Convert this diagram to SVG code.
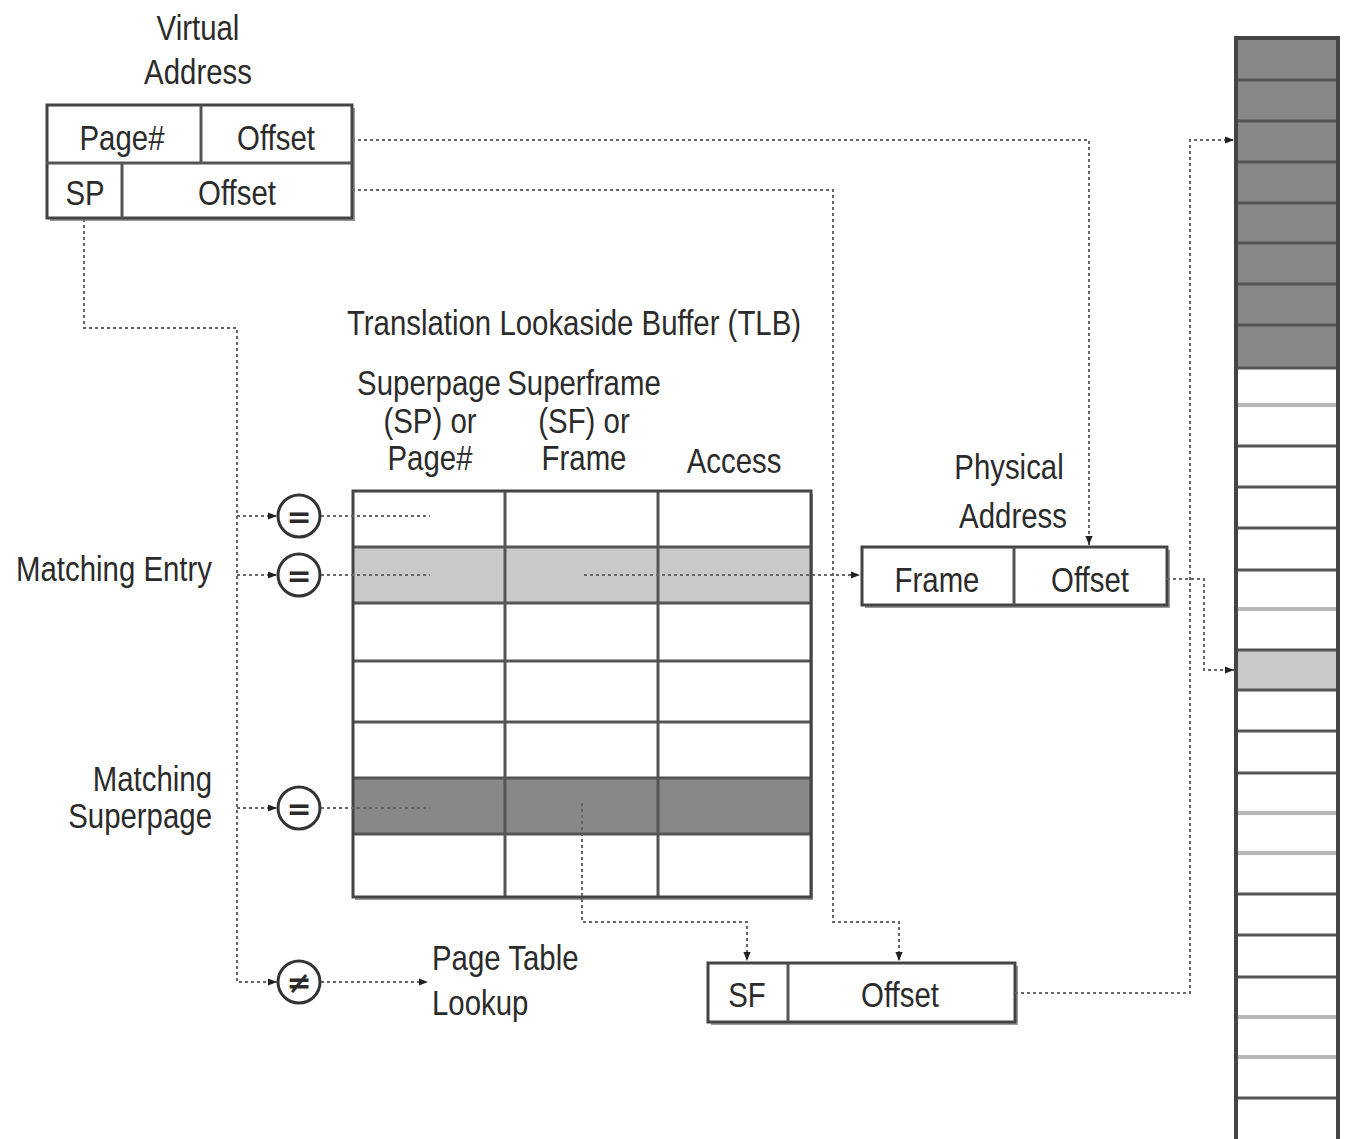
<svg xmlns="http://www.w3.org/2000/svg" width="1369" height="1139" viewBox="0 0 1369 1139">
  <style>
    text { font-family: "Liberation Sans", Arial, sans-serif; font-size: 35px; fill: #2b2b2b; }
    .c { text-anchor: middle; }
    .r { text-anchor: end; }
    .box { fill: #fff; stroke: #444; stroke-width: 3; }
    .shadow { fill: #9a9a9a; }
    .cell { fill: none; stroke: #444; stroke-width: 3; }
    .thin { stroke: #555; stroke-width: 3; }
    .light { stroke: #b8b8b8; stroke-width: 4; }
    .dot { fill: none; stroke: #666; stroke-width: 2; stroke-dasharray: 3 3; }
    .arr { marker-end: url(#tip); }
    .cmp { fill: #fff; stroke: #333; stroke-width: 3; }
    .sym { font-family: "DejaVu Sans", sans-serif; font-size: 30px; font-weight: bold; text-anchor: middle; }
  </style>
  <defs>
    <marker id="tip" viewBox="0 0 10 10" refX="10" refY="5" markerWidth="9" markerHeight="9" markerUnits="userSpaceOnUse" orient="auto">
      <path d="M0,1 L10,5 L0,9 z" fill="#222"/>
    </marker>
  </defs>

  <rect width="1369" height="1139" fill="#fff"/>

  <!-- Virtual address (labels are narrowed horizontally to a condensed face) -->
  <g id="virtual-address">
    <text class="c" transform="translate(198,40) scale(0.84,1)">Virtual</text>
    <text class="c" transform="translate(198,84) scale(0.84,1)">Address</text>
    <rect class="shadow" x="50" y="108" width="305" height="113"/>
    <rect class="box" x="47" y="105" width="305" height="113"/>
    <line class="thin" x1="47" y1="163" x2="352" y2="163"/>
    <line class="thin" x1="201" y1="105" x2="201" y2="163"/>
    <line class="thin" x1="122" y1="163" x2="122" y2="218"/>
    <text class="c" transform="translate(122,150) scale(0.84,1)">Page#</text>
    <text class="c" transform="translate(276,150) scale(0.84,1)">Offset</text>
    <text class="c" transform="translate(85,205) scale(0.84,1)">SP</text>
    <text class="c" transform="translate(237,205) scale(0.84,1)">Offset</text>
  </g>

  <!-- TLB -->
  <g id="tlb">
    <text class="c" transform="translate(574,335) scale(0.84,1)">Translation Lookaside Buffer (TLB)</text>
    <text class="c" transform="translate(429,395) scale(0.84,1)">Superpage</text>
    <text class="c" transform="translate(430,433) scale(0.84,1)">(SP) or</text>
    <text class="c" transform="translate(430,470) scale(0.84,1)">Page#</text>
    <text class="c" transform="translate(584,395) scale(0.84,1)">Superframe</text>
    <text class="c" transform="translate(584,433) scale(0.84,1)">(SF) or</text>
    <text class="c" transform="translate(584,470) scale(0.84,1)">Frame</text>
    <text class="c" transform="translate(734,473) scale(0.84,1)">Access</text>
    <rect class="shadow" x="355" y="494" width="458" height="406"/>
    <rect fill="#fff" x="353" y="491" width="458" height="406"/>
    <rect fill="#c9c9c9" x="353" y="547" width="458" height="56"/>
    <rect fill="#888" x="353" y="778" width="458" height="56"/>
    <line class="thin" x1="353" y1="547" x2="811" y2="547"/>
    <line class="thin" x1="353" y1="603" x2="811" y2="603"/>
    <line class="thin" x1="353" y1="661" x2="811" y2="661" stroke="#999"/>
    <line class="thin" x1="353" y1="722" x2="811" y2="722"/>
    <line class="thin" x1="353" y1="778" x2="811" y2="778"/>
    <line class="thin" x1="353" y1="834" x2="811" y2="834"/>
    <line class="thin" x1="505" y1="491" x2="505" y2="897"/>
    <line class="thin" x1="658" y1="491" x2="658" y2="897"/>
    <rect class="cell" x="353" y="491" width="458" height="406"/>
  </g>

  <!-- Comparators -->
  <g id="cmp-row1">
    <circle class="cmp" cx="299" cy="516" r="21"/>
    <text class="sym" x="299" y="527">=</text>
  </g>
  <g id="cmp-row2">
    <circle class="cmp" cx="299" cy="575" r="21"/>
    <text class="sym" x="299" y="586">=</text>
  </g>
  <g id="cmp-superpage">
    <circle class="cmp" cx="299" cy="808" r="21"/>
    <text class="sym" x="299" y="819">=</text>
  </g>
  <g id="cmp-miss">
    <circle class="cmp" cx="299" cy="982" r="21"/>
    <text class="sym" x="299" y="993">≠</text>
  </g>

  <!-- Side labels -->
  <g id="label-matching-entry">
    <text class="r" transform="translate(212,581) scale(0.84,1)">Matching Entry</text>
  </g>
  <g id="label-matching-superpage">
    <text class="r" transform="translate(212,791) scale(0.84,1)">Matching</text>
    <text class="r" transform="translate(212,828) scale(0.84,1)">Superpage</text>
  </g>
  <g id="label-page-table">
    <text transform="translate(432,970) scale(0.84,1)">Page Table</text>
    <text transform="translate(432,1015) scale(0.84,1)">Lookup</text>
  </g>

  <!-- Physical address -->
  <g id="physical-address">
    <text class="c" transform="translate(1009,479) scale(0.84,1)">Physical</text>
    <text class="c" transform="translate(1013,528) scale(0.84,1)">Address</text>
    <rect class="shadow" x="865" y="550" width="305" height="58"/>
    <rect class="box" x="862" y="547" width="305" height="58"/>
    <line class="thin" x1="1014" y1="547" x2="1014" y2="605"/>
    <text class="c" transform="translate(937,592) scale(0.84,1)">Frame</text>
    <text class="c" transform="translate(1090,592) scale(0.84,1)">Offset</text>
  </g>

  <!-- Superframe address -->
  <g id="superframe-address">
    <rect class="shadow" x="711" y="966" width="307" height="59"/>
    <rect class="box" x="708" y="963" width="307" height="59"/>
    <line class="thin" x1="788" y1="963" x2="788" y2="1022"/>
    <text class="c" transform="translate(747,1007) scale(0.84,1)">SF</text>
    <text class="c" transform="translate(900,1007) scale(0.84,1)">Offset</text>
  </g>

  <!-- Physical memory -->
  <g id="memory">
    <rect fill="#fff" x="1236" y="38" width="102" height="1110"/>
    <rect fill="#888" x="1236" y="38" width="102" height="330"/>
    <rect fill="#c9c9c9" x="1236" y="650" width="102" height="40"/>
    <g class="thin">
      <line x1="1236" y1="80" x2="1338" y2="80"/>
      <line x1="1236" y1="121" x2="1338" y2="121"/>
      <line x1="1236" y1="162" x2="1338" y2="162"/>
      <line x1="1236" y1="203" x2="1338" y2="203"/>
      <line x1="1236" y1="243" x2="1338" y2="243"/>
      <line x1="1236" y1="284" x2="1338" y2="284"/>
      <line x1="1236" y1="325" x2="1338" y2="325"/>
      <line x1="1236" y1="368" x2="1338" y2="368"/>
      <line x1="1236" y1="446" x2="1338" y2="446"/>
      <line x1="1236" y1="487" x2="1338" y2="487"/>
      <line x1="1236" y1="528" x2="1338" y2="528"/>
      <line x1="1236" y1="570" x2="1338" y2="570"/>
      <line x1="1236" y1="650" x2="1338" y2="650"/>
      <line x1="1236" y1="690" x2="1338" y2="690"/>
      <line x1="1236" y1="731" x2="1338" y2="731"/>
      <line x1="1236" y1="773" x2="1338" y2="773"/>
      <line x1="1236" y1="894" x2="1338" y2="894"/>
      <line x1="1236" y1="935" x2="1338" y2="935"/>
      <line x1="1236" y1="977" x2="1338" y2="977"/>
      <line x1="1236" y1="1098" x2="1338" y2="1098"/>
    </g>
    <g class="light">
      <line x1="1236" y1="405" x2="1338" y2="405"/>
      <line x1="1236" y1="609" x2="1338" y2="609"/>
      <line x1="1236" y1="813" x2="1338" y2="813"/>
      <line x1="1236" y1="853" x2="1338" y2="853"/>
      <line x1="1236" y1="1017" x2="1338" y2="1017"/>
      <line x1="1236" y1="1057" x2="1338" y2="1057"/>
    </g>
    <path d="M1236,1145 V38 H1338 V1145" fill="none" stroke="#444" stroke-width="4"/>
  </g>

  <!-- Connectors -->
  <g id="connectors">
    <path class="dot arr" d="M352,140 H1089 V545"/>
    <path class="dot arr" d="M352,190 H833 V922 H899 V961"/>
    <path class="dot arr" d="M84,219 V328 H237 V982 H277"/>
    <path class="dot arr" d="M237,516 H277"/>
    <path class="dot arr" d="M237,575 H277"/>
    <path class="dot arr" d="M237,808 H277"/>
    <path class="dot" d="M321,516 H430"/>
    <path class="dot" d="M321,575 H430"/>
    <path class="dot" d="M321,808 H430"/>
    <path class="dot arr" d="M321,982 H428"/>
    <path class="dot arr" d="M584,575 H860"/>
    <path class="dot arr" d="M582,803 V922 H747 V961"/>
    <path class="dot arr" d="M1167,579 H1204 V670 H1234"/>
    <path class="dot arr" d="M1015,993 H1190 V140 H1234"/>
  </g>
</svg>
